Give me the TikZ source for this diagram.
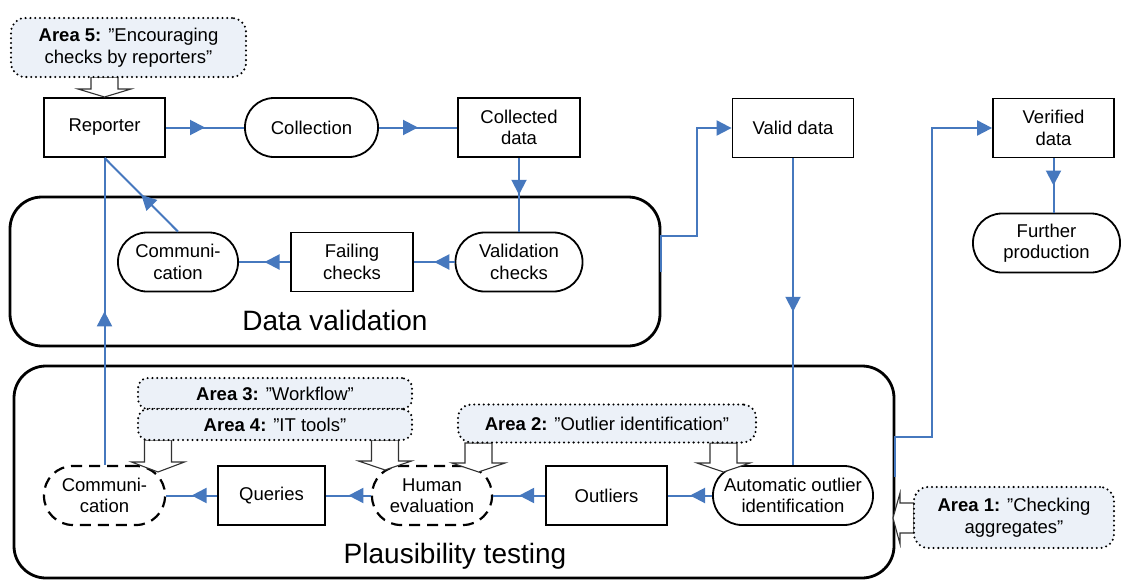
\documentclass[tikz,border=0pt]{standalone}
\usepackage{fontspec}
\setmainfont{Liberation Sans}
\usetikzlibrary{arrows.meta,decorations.markings,calc}

\definecolor{flow}{RGB}{70,120,190}
\definecolor{areafill}{RGB}{236,241,248}
\definecolor{blockedge}{RGB}{50,50,50}

\tikzset{
  txt/.style={font=\fontsize{18.5}{21.5}\selectfont, align=center},
  procbox/.style={txt, draw=black, line width=1.8pt, inner sep=0pt,
    minimum width=#1, minimum height=59pt},
  procbox/.default=121pt,
  pill/.style={procbox=#1, rounded corners=29pt},
  dashpill/.style={pill=#1, line width=2.2pt, dash pattern=on 11pt off 7pt},
  areabox/.style={txt, draw=black, fill=areafill, line width=2.3pt,
    dash pattern=on 0pt off 4.8pt, line cap=round, rounded corners=14pt,
    inner sep=0pt},
  stage/.style={draw=black, line width=2.8pt, rounded corners=32pt, inner sep=0pt},
  stagelabel/.style={font=\fontsize{28}{32}\selectfont},
  flowline/.style={draw=flow, line width=2pt},
  midarrow/.style={flowline, postaction={decorate}, decoration={markings,
    mark=at position 0.5 with {\arrow{Triangle[length=15pt,width=15pt]}}}},
  endarrow/.style={flowline, -{Triangle[length=15pt,width=15pt]}},
  blockarrow/.style={fill=white, draw=blockedge, line width=1.1pt, line join=miter},
}

% hollow block arrow pointing down: centre x, top y, head base y, tip y
\newcommand\dnblock[4]{%
  \path[blockarrow] (#1-13.5,#2) -- (#1-13.5,#3) -- (#1-26.5,#3) -- (#1,#4)
    -- (#1+26.5,#3) -- (#1+13.5,#3) -- (#1+13.5,#2) -- cycle;}

\begin{document}
\begin{tikzpicture}[x=1pt, y=-1pt]
\useasboundingbox (0,0) rectangle (1125,581);

% stage frames
\node[stage, minimum width=650pt, minimum height=149pt] (dv) at (335,271.5) {};
\node[stagelabel] (dvlabel) at (335,320) {Data validation};
\node[stage, minimum width=880pt, minimum height=212pt] (pt) at (454,472) {};
\node[stagelabel] (ptlabel) at (455,556) {Plausibility testing};

% top row
\node[procbox] (rep) at (104.5,127.5) {Reporter};
\node[pill=133pt] (coll) at (311.5,127.5) {Collection};
\node[procbox=122pt] (cdata) at (519,127.5) {Collected\\data};
\node[procbox] (valid) at (793,128) {Valid data};
\node[procbox] (verif) at (1053.5,128) {Verified\\data};
\node[pill=147pt] (further) at (1046.5,243) {Further\\production};

% data validation
\node[pill=127pt] (valch) at (519,262) {Validation\\checks};
\node[procbox=122pt] (fail) at (352,262) {Failing\\checks};
\node[pill=120pt] (comm1) at (178,262) {Communi-\\cation};

% plausibility testing
\node[dashpill=121pt] (comm2) at (104.5,495.5) {Communi-\\cation};
\node[procbox=107pt] (queries) at (271.5,495.5) {Queries};
\node[dashpill=120pt] (human) at (432,495.5) {Human\\evaluation};
\node[procbox] (outliers) at (606.5,495.5) {Outliers};
\node[pill=160pt] (auto) at (793,495.5) {Automatic outlier\\identification};

% connectors
\draw[midarrow] (rep) -- (coll);
\draw[midarrow] (coll) -- (cdata);
\draw[midarrow] (cdata) -- (valch);
\draw[midarrow] (valch) -- (fail);
\draw[midarrow] (fail) -- (comm1);
\draw[midarrow] (comm1.north) -- (rep.south);
\draw[midarrow] (comm2.north) -- (rep.south);
\draw[midarrow] (valid) -- (auto);
\draw[midarrow] (auto) -- (outliers);
\draw[midarrow] (outliers) -- (human);
\draw[midarrow] (human) -- (queries);
\draw[midarrow] (queries) -- (comm2);
\draw[midarrow] (verif.south) -- (verif.south |- further.north);
\draw[endarrow] (dv.east) -- ++(0,-36) -- ++(36,0) |- (valid.west);
\draw[endarrow] ($(pt.east)+(0,5)$) -- ++(0,-40) -- ++(37,0) |- (verif.west);

% improvement areas
\dnblock{104.5}{77}{89}{97}
\dnblock{158}{440}{462}{472}
\dnblock{385}{440}{461}{470}
\dnblock{478.5}{443}{463}{472}
\dnblock{723.5}{443}{463}{472}
\path[blockarrow] (914,503) -- (900,503) -- (900,493) -- (893,518)
  -- (900,544) -- (900,533) -- (914,533) -- cycle;

\node[areabox, minimum width=235pt, minimum height=59pt] (a5) at (128.5,47.5)
  {\textbf{Area 5:} ”Encouraging\\checks by reporters”};
\node[areabox, minimum width=274pt, minimum height=31pt, rounded corners=10pt] (a3) at (275,393.5)
  {\textbf{Area 3:} ”Workflow”};
\node[areabox, minimum width=274pt, minimum height=31pt, rounded corners=10pt] (a4) at (275,424.5)
  {\textbf{Area 4:} ”IT tools”};
\node[areabox, minimum width=298pt, minimum height=38pt, rounded corners=13pt] (a2) at (607,423.5)
  {\textbf{Area 2:} ”Outlier identification”};
\node[areabox, minimum width=200pt, minimum height=61pt] (a1) at (1014,517.5)
  {\textbf{Area 1:} ”Checking\\aggregates”};
\end{tikzpicture}
\end{document}
